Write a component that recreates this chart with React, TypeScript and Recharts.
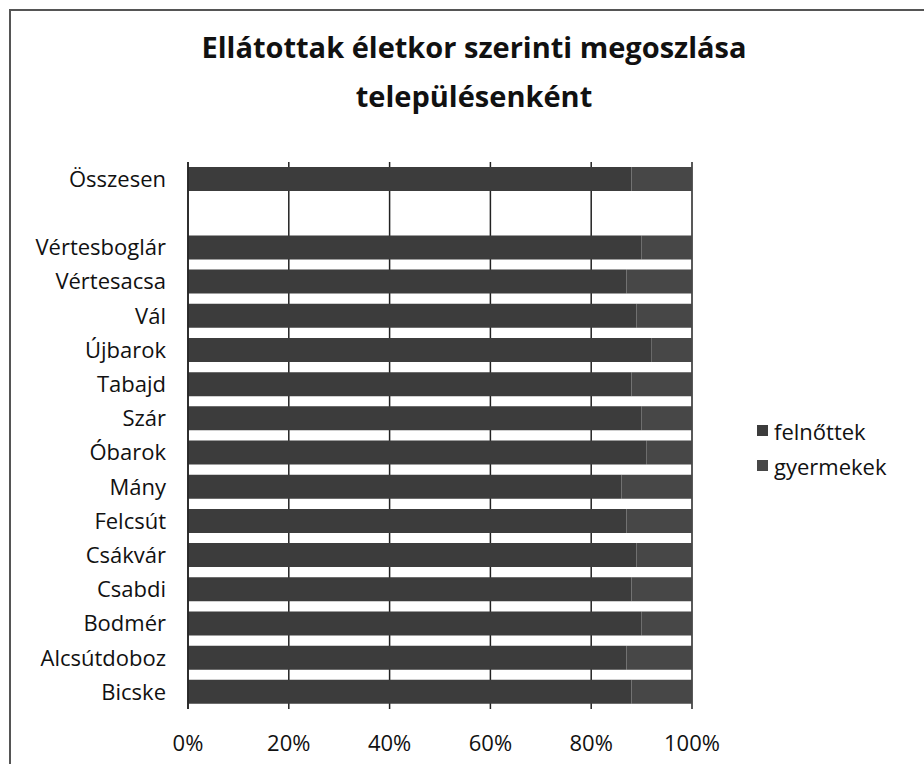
import { BarChart, Bar, XAxis, YAxis, CartesianGrid } from 'recharts';

const telepulesek = [
  'Összesen',
  ' ',
  'Vértesboglár',
  'Vértesacsa',
  'Vál',
  'Újbarok',
  'Tabajd',
  'Szár',
  'Óbarok',
  'Mány',
  'Felcsút',
  'Csákvár',
  'Csabdi',
  'Bodmér',
  'Alcsútdoboz',
  'Bicske',
];

const felnottek = [88, 0, 90, 87, 89, 92, 88, 90, 91, 86, 87, 89, 88, 90, 87, 88];
const gyermekek = [12, 0, 10, 13, 11, 8, 12, 10, 9, 14, 13, 11, 12, 10, 13, 12];

const xTicks = [0, 0.2, 0.4, 0.6, 0.8, 1];

const data = telepulesek.map((name, i) => ({
  name,
  felnottek: felnottek[i],
  gyermekek: gyermekek[i],
}));

const FONT = '"Open Sans", sans-serif';
const COLORS = { felnottek: '#3c3c3c', gyermekek: '#474747' };

const LegendBox = () => (
  <div
    style={{
      position: 'absolute',
      left: 757,
      top: 413,
      fontFamily: FONT,
      fontSize: 22,
      color: '#111',
    }}
  >
    {[
      { key: 'felnottek', label: 'felnőttek' },
      { key: 'gyermekek', label: 'gyermekek' },
    ].map((item) => (
      <div key={item.key} style={{ display: 'flex', alignItems: 'center', height: 35 }}>
        <span
          style={{
            width: 11,
            height: 11,
            background: COLORS[item.key as keyof typeof COLORS],
            marginRight: 6,
            display: 'inline-block',
          }}
        />
        <span>{item.label}</span>
      </div>
    ))}
  </div>
);

export default function App() {
  return (
    <div style={{ position: 'absolute', left: 0, top: 0, width: 924, height: 764, background: '#fff', overflow: 'hidden' }}>
      <div
        style={{
          position: 'absolute',
          left: 9,
          top: 9,
          width: 930,
          height: 770,
          borderLeft: '2px solid #555',
          borderTop: '2px solid #555',
        }}
      />
      <div
        style={{
          position: 'absolute',
          left: 0,
          top: 22,
          width: 948,
          textAlign: 'center',
          fontFamily: FONT,
          fontWeight: 700,
          fontSize: 29,
          lineHeight: '49px',
          color: '#111',
        }}
      >
        Ellátottak életkor szerinti megoszlása
        <br />
        településenként
      </div>
      <BarChart
        width={924}
        height={764}
        data={data}
        layout="vertical"
        stackOffset="expand"
        barCategoryGap={5}
        margin={{ top: 162, right: 232, bottom: 15, left: 0 }}
        style={{ position: 'absolute', left: 0, top: 0 }}
      >
        <CartesianGrid horizontal={false} stroke="#222" strokeWidth={1.5} />
        <XAxis
          type="number"
          domain={[0, 1]}
          ticks={xTicks}
          tickFormatter={(v: number) => `${Math.round(v * 100)}%`}
          axisLine={false}
          tickLine={false}
          tickMargin={20}
          height={40}
          tick={{ fill: '#111', fontSize: 22, fontFamily: FONT }}
        />
        <YAxis
          type="category"
          dataKey="name"
          width={188}
          interval={0}
          axisLine={{ stroke: '#222', strokeWidth: 1.5 }}
          tickLine={false}
          tickMargin={16}
          tick={{ fill: '#111', fontSize: 22, fontFamily: FONT }}
        />
        <Bar dataKey="felnottek" stackId="a" fill={COLORS.felnottek} isAnimationActive={false} />
        <Bar dataKey="gyermekek" stackId="a" fill={COLORS.gyermekek} isAnimationActive={false} />
      </BarChart>
      <LegendBox />
    </div>
  );
}
